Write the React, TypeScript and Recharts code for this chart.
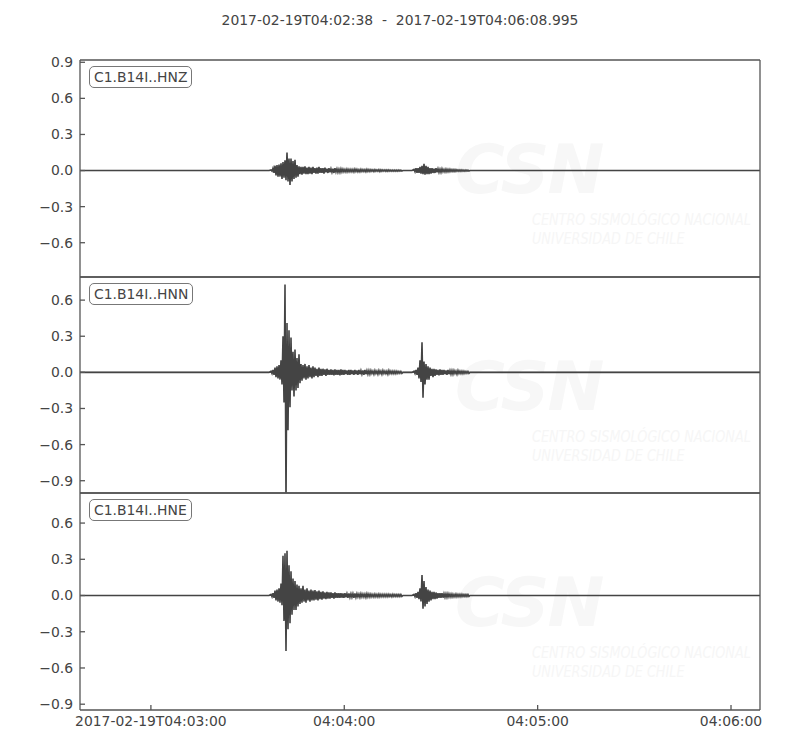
import { LineChart, Line, XAxis, YAxis } from "recharts";

// seconds after 2017-02-19T04:02:38
const T_END = 210.995;
const DT = 0.62;
const EV1_START = 59.27;
const EV2_START = 103.64;

const X_TICKS = [22, 82, 142, 202];
const X_LABELS = ["2017-02-19T04:03:00", "04:04:00", "04:05:00", "04:06:00"];

const TICKS_Z = [-0.6, -0.3, 0, 0.3, 0.6, 0.9];
const TICKS_NE = [-0.9, -0.6, -0.3, 0, 0.3, 0.6];

const HNZ_UP1 = [
  0.005, 0.02, 0.04, 0.045, 0.05, 0.06, 0.07, 0.085, 0.15, 0.1,
  0.1, 0.08, 0.09, 0.045, 0.035, 0.03, 0.03, 0.035, 0.025, 0.03,
  0.025, 0.03, 0.02, 0.025, 0.03, 0.02, 0.02, 0.025, 0.015, 0.02,
  0.015, 0.015, 0.02, 0.015, 0.012, 0.015, 0.012, 0.01, 0.012, 0.01,
  0.01, 0.01, 0.012, 0.01, 0.008, 0.01, 0.008, 0.008, 0.01, 0.008,
  0.008, 0.006, 0.008, 0.006, 0.008, 0.006, 0.006, 0.006, 0.005, 0.006,
  0.005, 0.005, 0.005, 0.005, 0.005, 0.004,
];
const HNZ_DN1 = [
  -0.005, -0.02, -0.04, -0.05, -0.05, -0.07, -0.06, -0.08, -0.09, -0.12,
  -0.09, -0.07, -0.06, -0.05, -0.03, -0.035, -0.025, -0.03, -0.03, -0.025,
  -0.03, -0.02, -0.025, -0.025, -0.02, -0.02, -0.025, -0.015, -0.02, -0.015,
  -0.015, -0.02, -0.012, -0.015, -0.015, -0.012, -0.01, -0.012, -0.01, -0.01,
  -0.01, -0.012, -0.008, -0.01, -0.01, -0.008, -0.008, -0.01, -0.008, -0.008,
  -0.006, -0.008, -0.006, -0.006, -0.008, -0.006, -0.005, -0.006, -0.006, -0.005,
  -0.005, -0.005, -0.005, -0.005, -0.004, -0.004,
];
const HNZ_UP2 = [
  0.01, 0.02, 0.02, 0.03, 0.04, 0.055, 0.04, 0.03, 0.02, 0.02,
  0.015, 0.02, 0.015, 0.012, 0.015, 0.01, 0.012, 0.01, 0.01, 0.008,
  0.008, 0.008, 0.006, 0.006, 0.006, 0.005, 0.005, 0.004,
];
const HNZ_DN2 = [
  -0.01, -0.02, -0.02, -0.025, -0.03, -0.035, -0.03, -0.03, -0.025, -0.02,
  -0.02, -0.015, -0.015, -0.015, -0.01, -0.012, -0.01, -0.01, -0.008, -0.008,
  -0.008, -0.006, -0.006, -0.006, -0.005, -0.005, -0.004, -0.004,
];

const HNN_UP1 = [
  0.01, 0.02, 0.04, 0.05, 0.06, 0.1, 0.3, 0.73, 0.41, 0.35,
  0.29, 0.17, 0.19, 0.12, 0.15, 0.07, 0.06, 0.07, 0.05, 0.06,
  0.04, 0.05, 0.04, 0.03, 0.04, 0.03, 0.03, 0.025, 0.03, 0.02,
  0.025, 0.02, 0.025, 0.02, 0.02, 0.025, 0.02, 0.02, 0.015, 0.02,
  0.02, 0.015, 0.02, 0.015, 0.02, 0.015, 0.015, 0.02, 0.015, 0.015,
  0.015, 0.01, 0.015, 0.01, 0.015, 0.01, 0.015, 0.01, 0.01, 0.015,
  0.01, 0.01, 0.01, 0.01, 0.008, 0.008,
];
const HNN_DN1 = [
  -0.01, -0.02, -0.04, -0.05, -0.06, -0.1, -0.25, -1.1, -0.48, -0.29,
  -0.15, -0.2, -0.15, -0.13, -0.09, -0.07, -0.05, -0.06, -0.05, -0.04,
  -0.05, -0.04, -0.03, -0.04, -0.03, -0.03, -0.02, -0.03, -0.02, -0.02,
  -0.02, -0.025, -0.02, -0.02, -0.025, -0.02, -0.02, -0.015, -0.02, -0.02,
  -0.015, -0.02, -0.015, -0.02, -0.015, -0.015, -0.02, -0.015, -0.015, -0.015,
  -0.01, -0.015, -0.01, -0.015, -0.01, -0.015, -0.01, -0.01, -0.015, -0.01,
  -0.01, -0.01, -0.01, -0.008, -0.008, -0.008,
];
const HNN_UP2 = [
  0.01, 0.02, 0.04, 0.1, 0.25, 0.09, 0.07, 0.05, 0.04, 0.03,
  0.03, 0.025, 0.02, 0.025, 0.02, 0.02, 0.015, 0.02, 0.015, 0.015,
  0.015, 0.01, 0.015, 0.01, 0.01, 0.01, 0.008, 0.008,
];
const HNN_DN2 = [
  -0.01, -0.02, -0.05, -0.08, -0.21, -0.1, -0.06, -0.06, -0.03, -0.04,
  -0.03, -0.02, -0.025, -0.02, -0.02, -0.015, -0.02, -0.015, -0.015, -0.015,
  -0.01, -0.015, -0.01, -0.01, -0.01, -0.008, -0.008, -0.008,
];

const HNE_UP1 = [
  0.01, 0.02, 0.04, 0.05, 0.06, 0.1, 0.33, 0.35, 0.37, 0.25,
  0.2, 0.14, 0.12, 0.09, 0.08, 0.06, 0.08, 0.05, 0.06, 0.04,
  0.05, 0.04, 0.045, 0.035, 0.04, 0.03, 0.035, 0.025, 0.03, 0.025,
  0.025, 0.02, 0.025, 0.02, 0.02, 0.02, 0.018, 0.02, 0.015, 0.018,
  0.015, 0.015, 0.018, 0.015, 0.012, 0.015, 0.012, 0.012, 0.015, 0.012,
  0.012, 0.01, 0.012, 0.01, 0.012, 0.01, 0.01, 0.01, 0.01, 0.01,
  0.008, 0.01, 0.008, 0.008, 0.008, 0.008,
];
const HNE_DN1 = [
  -0.01, -0.02, -0.04, -0.05, -0.06, -0.08, -0.21, -0.46, -0.28, -0.23,
  -0.16, -0.12, -0.12, -0.09, -0.07, -0.06, -0.05, -0.06, -0.04, -0.05,
  -0.04, -0.04, -0.035, -0.04, -0.03, -0.035, -0.025, -0.03, -0.025, -0.025,
  -0.02, -0.025, -0.02, -0.02, -0.02, -0.018, -0.02, -0.015, -0.018, -0.015,
  -0.015, -0.018, -0.015, -0.012, -0.015, -0.012, -0.012, -0.015, -0.012, -0.012,
  -0.01, -0.012, -0.01, -0.012, -0.01, -0.01, -0.01, -0.01, -0.01, -0.008,
  -0.01, -0.008, -0.008, -0.008, -0.008, -0.008,
];
const HNE_UP2 = [
  0.01, 0.02, 0.03, 0.06, 0.17, 0.12, 0.07, 0.05, 0.04, 0.03,
  0.03, 0.025, 0.02, 0.02, 0.02, 0.015, 0.015, 0.015, 0.012, 0.012,
  0.01, 0.012, 0.01, 0.01, 0.01, 0.008, 0.008, 0.008,
];
const HNE_DN2 = [
  -0.01, -0.02, -0.03, -0.05, -0.11, -0.09, -0.07, -0.05, -0.04, -0.03,
  -0.03, -0.025, -0.02, -0.02, -0.018, -0.015, -0.015, -0.012, -0.012, -0.012,
  -0.01, -0.01, -0.01, -0.01, -0.008, -0.008, -0.008, -0.008,
];

const INK = "#444";
const FONT = "'DejaVu Sans', sans-serif";
const FS = 13.9;
const PAD = 10;

type Pt = { t: number; v: number };

const pushEvent = (pts: Pt[], start: number, up: number[], dn: number[]) => {
  pts.push({ t: start - DT, v: 0 });
  up.forEach((u, i) => {
    const t = start + i * DT;
    pts.push({ t, v: u });
    pts.push({ t: t + DT / 2, v: dn[i] });
  });
  pts.push({ t: start + up.length * DT, v: 0 });
};

const buildTrace = (up1: number[], dn1: number[], up2: number[], dn2: number[]) => {
  const pts: Pt[] = [{ t: 0, v: 0 }];
  pushEvent(pts, EV1_START, up1, dn1);
  pushEvent(pts, EV2_START, up2, dn2);
  pts.push({ t: T_END, v: 0 });
  return pts;
};

const baseline: Pt[] = [
  { t: 0, v: 0 },
  { t: T_END, v: 0 },
];

const fmtY = (v: number) => (v < 0 ? "\u2212" + Math.abs(v).toFixed(1) : v.toFixed(1));
const fmtX = (v: number) => X_LABELS[X_TICKS.indexOf(v)] ?? "";

interface PanelProps {
  top: number;
  height: number;
  domain: [number, number];
  ticks: number[];
  name: string;
  data: Pt[];
  showX?: boolean;
}

const Panel = ({ top, height, domain, ticks, name, data, showX }: PanelProps) => {
  const xh = showX ? 30 : 1;
  const axisStroke = { stroke: "#555", strokeWidth: 1.3 };
  return (
    <div style={{ position: "absolute", left: 0, top: top - PAD, width: 800 }}>
      {/* faint CSN watermark */}
      <div style={{ position: "absolute", left: 455, top: PAD + 70, fontFamily: FONT, fontStyle: "italic", fontWeight: 700, fontSize: 68, color: "#f7f7f7", letterSpacing: -2 }}>
        CSN
      </div>
      <div
        style={{
          position: "absolute",
          left: 532,
          top: PAD + 150,
          fontFamily: FONT,
          fontStyle: "italic",
          fontSize: 16,
          lineHeight: "19px",
          color: "#f6f6f6",
          whiteSpace: "nowrap",
          transform: "scaleX(0.8)",
          transformOrigin: "left",
        }}
      >
        CENTRO SISMOLÓGICO NACIONAL
        <br />
        UNIVERSIDAD DE CHILE
      </div>
      <LineChart
        width={800}
        height={PAD + height + (showX ? 30 : PAD)}
        data={data}
        margin={{ top: PAD - 1, right: 39, bottom: showX ? 0 : PAD - 1, left: 20 }}
        style={{ position: "relative" }}
      >
        <XAxis
          xAxisId="b"
          type="number"
          dataKey="t"
          domain={[0, T_END]}
          allowDataOverflow
          ticks={X_TICKS}
          tickFormatter={fmtX}
          tickSize={-5}
          tickMargin={11}
          height={xh}
          tick={showX ? { fill: INK, fontSize: FS, fontFamily: FONT } : false}
          axisLine={axisStroke}
          tickLine={axisStroke}
        />
        <XAxis
          xAxisId="t"
          orientation="top"
          type="number"
          dataKey="t"
          domain={[0, T_END]}
          allowDataOverflow
          ticks={X_TICKS}
          tickSize={-5}
          height={1}
          tick={false}
          axisLine={axisStroke}
          tickLine={axisStroke}
        />
        <YAxis
          yAxisId="l"
          type="number"
          domain={domain}
          allowDataOverflow
          ticks={ticks}
          tickFormatter={fmtY}
          tickSize={-5}
          tickMargin={12}
          width={60}
          interval={0}
          tick={{ fill: INK, fontSize: FS, fontFamily: FONT }}
          axisLine={axisStroke}
          tickLine={axisStroke}
        />
        <YAxis
          yAxisId="r"
          orientation="right"
          type="number"
          domain={domain}
          allowDataOverflow
          ticks={ticks}
          tickSize={-5}
          width={1}
          interval={0}
          tick={false}
          axisLine={axisStroke}
          tickLine={axisStroke}
        />
        <Line
          xAxisId="t"
          yAxisId="r"
          data={baseline}
          dataKey="v"
          stroke={INK}
          strokeWidth={1}
          dot={false}
          isAnimationActive={false}
        />
        <Line
          xAxisId="b"
          yAxisId="l"
          dataKey="v"
          stroke={INK}
          strokeWidth={1.6}
          dot={false}
          isAnimationActive={false}
        />
      </LineChart>
      <div
        style={{
          position: "absolute",
          left: 89,
          top: PAD + 6,
          height: 20,
          padding: "0 4px",
          border: "1.5px solid #777",
          borderRadius: 5,
          background: "#fff",
          fontFamily: FONT,
          fontSize: FS,
          lineHeight: "20px",
          color: INK,
        }}
      >
        {name}
      </div>
    </div>
  );
};

export default function App() {
  return (
    <div style={{ position: "absolute", left: 0, top: 0, width: 800, height: 750, background: "#fff" }}>
      <div
        style={{
          position: "absolute",
          top: 12,
          width: 800,
          textAlign: "center",
          fontFamily: FONT,
          fontSize: FS,
          color: INK,
          whiteSpace: "pre",
        }}
      >
        {"2017-02-19T04:02:38  -  2017-02-19T04:06:08.995"}
      </div>
      <Panel top={60} height={217} domain={[-0.885, 0.919]} ticks={TICKS_Z} name="C1.B14I..HNZ" data={buildTrace(HNZ_UP1, HNZ_DN1, HNZ_UP2, HNZ_DN2)} />
      <Panel top={277} height={216} domain={[-1.002, 0.792]} ticks={TICKS_NE} name="C1.B14I..HNN" data={buildTrace(HNN_UP1, HNN_DN1, HNN_UP2, HNN_DN2)} />
      <Panel top={493} height={217} domain={[-0.948, 0.849]} ticks={TICKS_NE} name="C1.B14I..HNE" data={buildTrace(HNE_UP1, HNE_DN1, HNE_UP2, HNE_DN2)} showX />
    </div>
  );
}
